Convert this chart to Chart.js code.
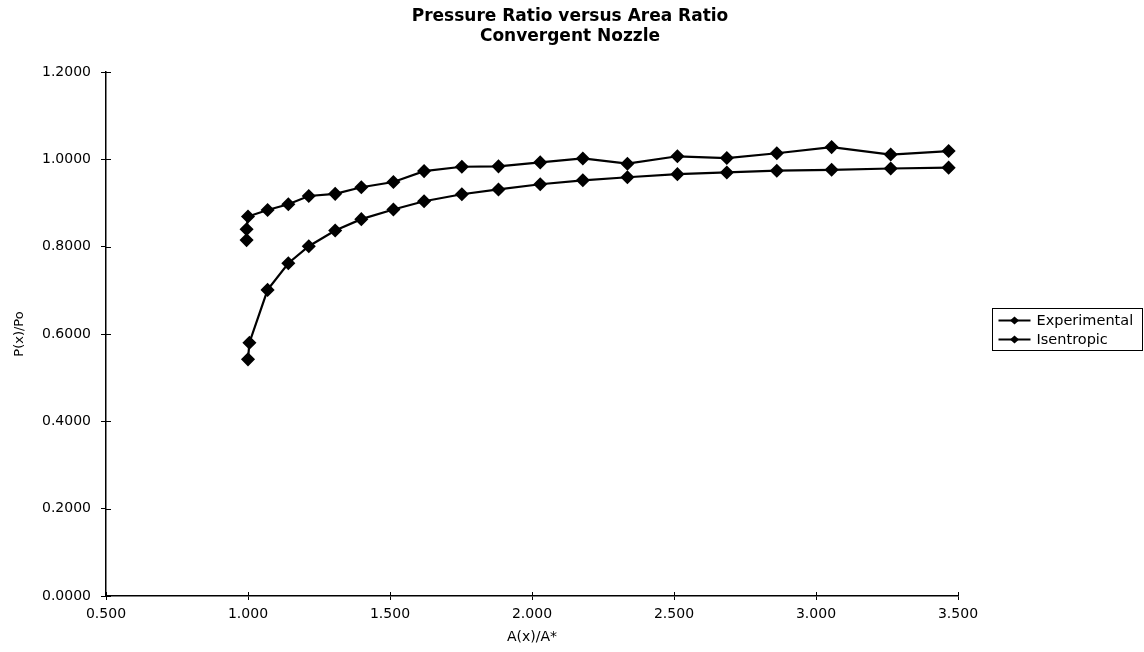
<!DOCTYPE html>
<html>
<head>
<meta charset="utf-8">
<script src="https://cdn.jsdelivr.net/npm/chart.js@4.4.1/dist/chart.umd.min.js"></script>
<style>
  body { margin: 0; background: #fff; }
  #wrap { width: 1144px; height: 652px; }
</style>
</head>
<body>
<div id="wrap"><canvas id="chart"></canvas></div>
<script>
// chart text
var titleLines = ["Pressure Ratio versus Area Ratio", "Convergent Nozzle"];
var xTitle = "A(x)/A*";
var yTitle = "P(x)/Po";
var seriesNames = ["Experimental", "Isentropic"];

// values
var areaExp  = [0.995, 0.995, 1.000, 1.069, 1.142, 1.214, 1.307, 1.399, 1.512, 1.620, 1.753, 1.882, 2.029, 2.179, 2.336, 2.512, 2.686, 2.862, 3.055, 3.263, 3.467];
var pressExp = [0.815, 0.840, 0.869, 0.884, 0.897, 0.916, 0.921, 0.936, 0.948, 0.973, 0.983, 0.984, 0.993, 1.002, 0.990, 1.007, 1.003, 1.014, 1.028, 1.011, 1.019];
var areaIse  = [1.000, 1.005, 1.069, 1.142, 1.214, 1.307, 1.399, 1.512, 1.620, 1.753, 1.882, 2.029, 2.179, 2.336, 2.512, 2.686, 2.862, 3.055, 3.263, 3.467];
var pressIse = [0.542, 0.580, 0.701, 0.762, 0.801, 0.837, 0.863, 0.885, 0.904, 0.920, 0.931, 0.943, 0.952, 0.959, 0.966, 0.970, 0.974, 0.976, 0.979, 0.981];

// tick labels
var xTicks = [0.5, 1.0, 1.5, 2.0, 2.5, 3.0, 3.5];
var yTicks = [0, 0.2, 0.4, 0.6, 0.8, 1.0, 1.2];

function pts(xs, ys) {
  var out = [];
  for (var i = 0; i < xs.length; i++) out.push({x: xs[i], y: ys[i]});
  return out;
}

// ticks that cross the axis line, like the old spreadsheet charts
var crossTicks = {
  id: "crossTicks",
  afterDraw: function(chart) {
    var ctx = chart.ctx, a = chart.chartArea;
    var xs = chart.scales.x, ys = chart.scales.y;
    ctx.save();
    ctx.strokeStyle = "#000";
    ctx.lineWidth = 1;
    xs.ticks.forEach(function(t) {
      var px = Math.round(xs.getPixelForValue(t.value)) + 0.5;
      ctx.beginPath(); ctx.moveTo(px, a.bottom - 4); ctx.lineTo(px, a.bottom); ctx.stroke();
    });
    ys.ticks.forEach(function(t) {
      var py = Math.round(ys.getPixelForValue(t.value)) + 0.5;
      ctx.beginPath(); ctx.moveTo(a.left, py); ctx.lineTo(a.left + 5, py); ctx.stroke();
    });
    ctx.restore();
  }
};

// title and boxed legend drawn by hand
var header = {
  id: "header",
  afterDraw: function(chart) {
    var ctx = chart.ctx;
    ctx.save();
    ctx.fillStyle = "#000";
    ctx.textAlign = "center";
    ctx.textBaseline = "middle";
    ctx.font = "bold 17px 'DejaVu Sans'";
    ctx.fillText(titleLines[0], 570, 17);
    ctx.fillText(titleLines[1], 570, 37);

    var bx = 992.5, by = 308.5, bw = 150, bh = 42;
    ctx.strokeStyle = "#000";
    ctx.lineWidth = 1;
    ctx.strokeRect(bx, by, bw, bh);
    ctx.textAlign = "left";
    ctx.font = "14.5px 'DejaVu Sans'";
    chart.data.datasets.forEach(function(ds, i) {
      var y = by + 12 + i * 19;
      ctx.lineWidth = 2;
      ctx.beginPath(); ctx.moveTo(bx + 6, y); ctx.lineTo(bx + 38, y); ctx.stroke();
      var cx = bx + 22;
      ctx.beginPath();
      ctx.moveTo(cx, y - 4); ctx.lineTo(cx + 4.5, y); ctx.lineTo(cx, y + 4); ctx.lineTo(cx - 4.5, y);
      ctx.closePath(); ctx.fill();
      ctx.fillText(ds.label, bx + 44, y + 1);
    });
    ctx.restore();
  }
};

var lineStyle = {
  borderColor: "#000",
  backgroundColor: "#000",
  borderWidth: 2.2,
  pointStyle: "rectRot",
  pointRadius: 5.5,
  pointHoverRadius: 5.5,
  showLine: true,
  tension: 0
};

var canvas = document.getElementById("chart");
var config = {
  type: "scatter",
  data: {
    datasets: [
      Object.assign({label: seriesNames[0], data: pts(areaExp, pressExp)}, lineStyle),
      Object.assign({label: seriesNames[1], data: pts(areaIse, pressIse)}, lineStyle)
    ]
  },
  options: {
    responsive: true,
    maintainAspectRatio: false,
    animation: false,
    layout: { padding: { left: 0, right: 186, top: 72, bottom: 0 } },
    plugins: {
      legend: { display: false },
      title: { display: false },
      tooltip: { enabled: false }
    },
    scales: {
      x: {
        type: "linear",
        min: 0.5, max: 3.5,
        afterBuildTicks: function(s) { s.ticks = xTicks.map(function(v) { return {value: v}; }); },
        afterFit: function(s) { s.height = 56; },
        border: { color: "#000", width: 1.5 },
        grid: { drawOnChartArea: false, color: "#000", tickLength: 4 },
        ticks: {
          color: "#000", padding: 6, maxRotation: 0,
          font: { family: "DejaVu Sans", size: 14 },
          callback: function(v) { return Number(v).toFixed(3); }
        },
        title: {
          display: true, text: xTitle, color: "#000",
          font: { family: "DejaVu Sans", size: 14 },
          padding: { top: 0, bottom: 6 }
        }
      },
      y: {
        type: "linear",
        min: 0, max: 1.2,
        afterBuildTicks: function(s) { s.ticks = yTicks.map(function(v) { return {value: v}; }); },
        afterFit: function(s) { s.width = 106; },
        border: { color: "#000", width: 1.5 },
        grid: { drawOnChartArea: false, color: "#000", tickLength: 5 },
        ticks: {
          color: "#000", padding: 10,
          font: { family: "DejaVu Sans", size: 14 },
          callback: function(v) { return Number(v).toFixed(4); }
        },
        title: {
          display: true, text: yTitle, color: "#000",
          font: { family: "DejaVu Sans", size: 13 },
          padding: { top: 12, bottom: 0 }
        }
      }
    }
  },
  plugins: [crossTicks, header]
};

var lineChart = new Chart(canvas, config);
</script>
</body>
</html>
